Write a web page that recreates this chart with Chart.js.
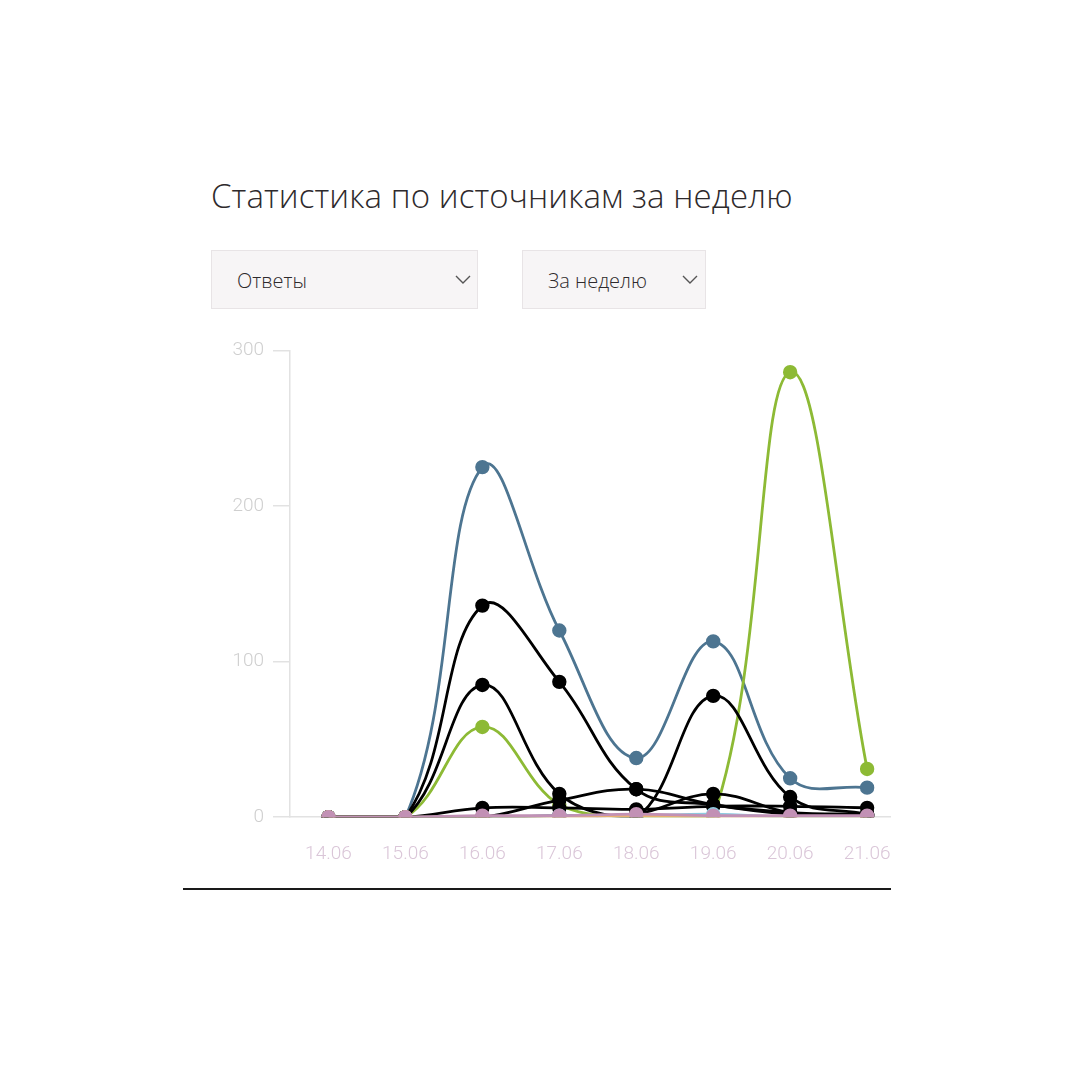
<!DOCTYPE html>
<html>
<head>
<meta charset="utf-8">
<script src="https://cdn.jsdelivr.net/npm/chart.js@4.4.0/dist/chart.umd.min.js"></script>
<style>
  body { margin: 0; background: #fff; width: 1080px; height: 1070px; position: relative; overflow: hidden; font-family: "Open Sans", sans-serif; }
  .title { position: absolute; left: 211px; top: 173px; font-size: 33px; font-weight: 300; color: #2e2a2c; letter-spacing: 0.1px; }
  .select { position: absolute; top: 250px; height: 59px; background: #f7f5f6; border: 1px solid #e8e4e6; box-sizing: border-box; font-size: 20px; font-weight: 300; color: #2e2a2c; line-height: 59px; }
  .select span { position: absolute; left: 25px; }
  .select svg { position: absolute; top: 24px; }
  #sel1 { left: 211px; width: 267px; }
  #sel2 { left: 522px; width: 184px; }
  .wrap { position: absolute; left: 183px; top: 330px; width: 708px; height: 558px; overflow: hidden; }
  .wrap canvas { position: absolute; left: 17px; top: 0; }
  .rule { position: absolute; left: 183px; top: 888px; width: 708px; height: 2px; background: #1a1a1a; }
</style>
</head>
<body>
<div class="title">Статистика по источникам за неделю</div>
<div class="select" id="sel1"><span>Ответы</span>
  <svg width="16" height="10" style="left:243px"><polyline points="1,1 8,8 15,1" fill="none" stroke="#555" stroke-width="1.4"/></svg></div>
<div class="select" id="sel2"><span>За неделю</span>
  <svg width="16" height="10" style="left:159px"><polyline points="1,1 8,8 15,1" fill="none" stroke="#555" stroke-width="1.4"/></svg></div>
<div class="wrap"><canvas id="myChart" width="717" height="562" style="width:717px;height:562px"></canvas></div>
<div class="rule"></div>
<script>
// x axis
const days = ['14.06', '15.06', '16.06', '17.06', '18.06', '19.06', '20.06', '21.06']
const yTicks = [0, 100, 200, 300]

// series, first one is drawn on top
const pinkSource   = [0, 0, 1, 1, 2, 1, 1, 1]
const orangeSource = [0, 0, 0, 0, 1, 0, 0, 0]
const skySource    = [0, 0, 0, 1, 1, 2, 0, 0]
const blackA       = [0, 0, 136, 87, 18, 8, 3, 2]
const blackB       = [0, 0, 85, 15, 0, 78, 13, 2]
const blackC       = [0, 0, 0, 11, 18, 8, 2, 1]
const blackD       = [0, 0, 6, 6, 5, 7, 7, 6]
const blackE       = [0, 0, 0, 1, 2, 15, 3, 1]
const greenSource  = [0, 0, 58, 8, 0, 0, 286, 31]
const blueSource   = [0, 0, 225, 120, 38, 113, 25, 19]

const line = (data, color) => ({
    data: data,
    borderColor: color,
    backgroundColor: color,
    pointBackgroundColor: color,
    pointBorderColor: color,
    borderWidth: 2.8,
    pointRadius: 5.8,
    pointHoverRadius: 5.8,
    tension: 0.4,
    fill: false
})

const ctx = document.getElementById('myChart').getContext('2d')

const myChart = new Chart(ctx, {
    type: 'line',
    data: {
        labels: days,
        datasets: [
            line(pinkSource, '#c291b5'),
            line(orangeSource, '#e9b070'),
            line(skySource, '#8ccbe0'),
            line(blackA, '#000000'),
            line(blackB, '#000000'),
            line(blackC, '#000000'),
            line(blackD, '#000000'),
            line(blackE, '#000000'),
            line(greenSource, '#8dba35'),
            line(blueSource, '#4d7591')
        ]
    },
    options: {
        responsive: false,
        animation: false,
        layout: { padding: { top: 18, right: 0, left: 0, bottom: 0 } },
        plugins: { legend: { display: false }, tooltip: { enabled: false } },
        scales: {
            x: {
                offset: true,
                grid: { display: true, drawOnChartArea: false, drawTicks: false, color: '#e2e2e2' },
                border: { color: '#e2e2e2', width: 1.5 },
                ticks: { color: '#dac6d8', padding: 26, font: { family: 'Roboto', weight: 300, size: 19 } }
            },
            y: {
                min: 0,
                max: 300,
                afterBuildTicks: axis => { axis.ticks = yTicks.map(v => ({ value: v })) },
                afterFit: axis => { axis.width = 90 },
                grid: { display: true, drawOnChartArea: false, drawTicks: true, tickLength: 17, color: '#e2e2e2', lineWidth: 1.5 },
                border: { color: '#e2e2e2', width: 1.5 },
                ticks: { color: '#cfcfcf', padding: 9, font: { family: 'Roboto', weight: 300, size: 19 } }
            }
        }
    }
})
</script>
</body>
</html>
